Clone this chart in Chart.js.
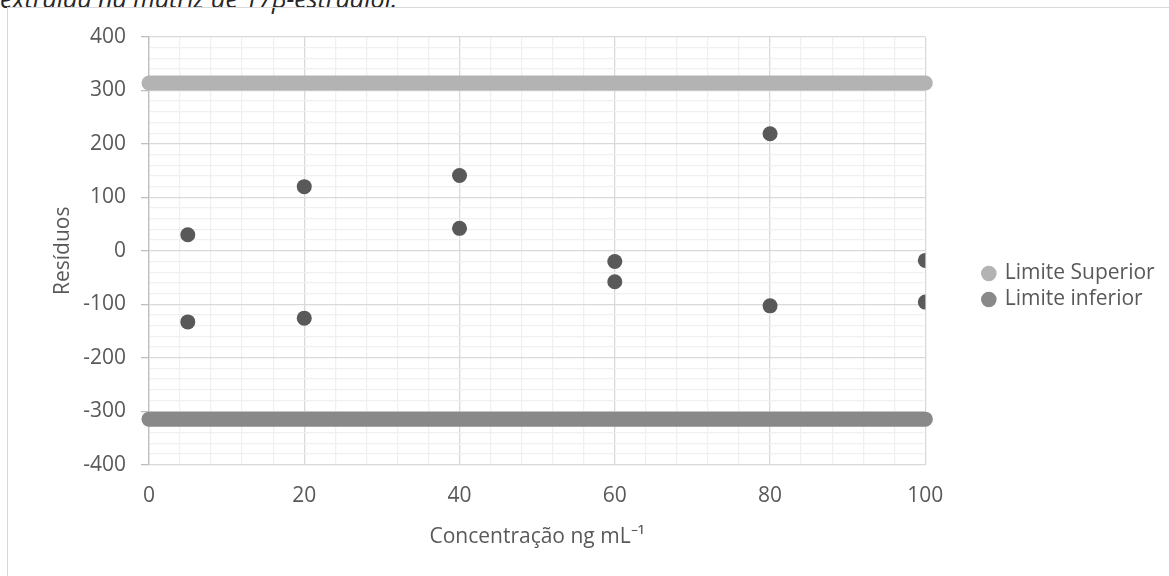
<!DOCTYPE html>
<html lang="pt">
<head>
<meta charset="utf-8">
<script src="https://cdn.jsdelivr.net/npm/chart.js@4.4.1/dist/chart.umd.min.js"></script>
<style>
  body { margin: 0; background: #fff; overflow: hidden; font-family: "Open Sans", sans-serif; }
  #caption { position: absolute; left: 0; top: -19px; font-style: italic; font-size: 25px; color: #262626; white-space: nowrap; }
  #box { position: absolute; left: 7px; top: 7px; width: 1200px; height: 620px; border: 1px solid #d9d9d9; }
  #wrap { position: absolute; left: 8px; top: 8px; width: 1161px; height: 568px; }
</style>
</head>
<body>
<div id="caption">extraída na matriz de 17β-estradiol.</div>
<div id="box"></div>
<div id="wrap"><canvas id="myChart"></canvas></div>
<script>
"use strict";

//Concentrações e resíduos
const concentrations = [5, 5, 20, 20, 40, 40, 60, 60, 80, 80, 100, 100];
const residuals = [30, -133, 120, -126, 141, 42, -20, -58, 219, -103, -18, -96];

//Limites
const limitX = [0, 100];
const upperLimit = [314, 314];
const lowerLimit = [-315, -315];

//Eixos
const xTicks = [0, 20, 40, 60, 80, 100];
const yTicks = [-400, -300, -200, -100, 0, 100, 200, 300, 400];

function toPoints(xs, ys) {
  return xs.map(function (x, i) {
    return { x: x, y: ys[i] };
  });
}

Chart.defaults.font.family = '"Open Sans", sans-serif';
Chart.defaults.font.size = 21;
Chart.defaults.color = "#595959";

//Flytta förklaringen lite uppåt
const legendShift = {
  id: "legendShift",
  afterLayout(chart) {
    if (chart.legend) {
      chart.legend.top -= 7;
      chart.legend.bottom -= 7;
    }
  },
};

const ctx = document.getElementById("myChart");

new Chart(ctx, {
  type: "scatter",
  data: {
    datasets: [
      {
        label: "Limite Superior",
        data: toPoints(limitX, upperLimit),
        showLine: true,
        borderColor: "#b3b3b3",
        backgroundColor: "#b3b3b3",
        borderWidth: 15,
        borderCapStyle: "round",
        pointRadius: 0,
        clip: false,
      },
      {
        label: "Limite inferior",
        data: toPoints(limitX, lowerLimit),
        showLine: true,
        borderColor: "#898989",
        backgroundColor: "#898989",
        borderWidth: 15,
        borderCapStyle: "round",
        pointRadius: 0,
        clip: false,
      },
      {
        label: "Resíduos",
        data: toPoints(concentrations, residuals),
        backgroundColor: "#595959",
        borderWidth: 0,
        pointRadius: 7.5,
        pointHoverRadius: 7.5,
      },
    ],
  },
  plugins: [legendShift],
  options: {
    responsive: true,
    maintainAspectRatio: false,
    animation: false,
    layout: {
      padding: { top: 29, bottom: 26, left: 42, right: 5 },
    },
    plugins: {
      tooltip: { enabled: false },
      legend: {
        position: "right",
        labels: {
          usePointStyle: true,
          pointStyle: "circle",
          boxWidth: 11,
          boxHeight: 11,
          padding: 5,
          color: "#595959",
          filter: function (item) {
            return item.datasetIndex !== 2;
          },
          generateLabels: function (chart) {
            return Chart.defaults.plugins.legend.labels.generateLabels(chart).map(function (item) {
              item.lineWidth = 0;
              return item;
            });
          },
        },
      },
    },
    scales: {
      x: {
        type: "linear",
        min: 0,
        max: 100,
        border: { color: "#d9d9d9" },
        grid: {
          color: function (c) {
            return xTicks.includes(c.tick.value) ? "#d9d9d9" : "#f0f0f0";
          },
          lineWidth: 1.3,
          tickLength: 8,
          tickColor: "rgba(0,0,0,0)",
        },
        ticks: {
          stepSize: 4,
          autoSkip: false,
          maxRotation: 0,
          padding: 11,
          callback: function (value) {
            return xTicks.includes(value) ? String(value) : "";
          },
        },
        title: {
          display: true,
          text: "Concentração ng mL⁻¹",
          color: "#595959",
          padding: { top: 5, bottom: 0 },
        },
      },
      y: {
        min: -400,
        max: 400,
        border: { color: "#bfbfbf", width: 1.3 },
        grid: {
          color: function (c) {
            return yTicks.includes(c.tick.value) ? "#d9d9d9" : "#f0f0f0";
          },
          lineWidth: 1.3,
          tickLength: 8,
          tickColor: function (c) {
            return yTicks.includes(c.tick.value) ? "#bfbfbf" : "rgba(0,0,0,0)";
          },
        },
        ticks: {
          stepSize: 20,
          autoSkip: false,
          padding: 15,
          callback: function (value) {
            return yTicks.includes(value) ? String(value) : "";
          },
        },
        title: {
          display: true,
          text: "Resíduos",
          color: "#595959",
          padding: { top: 0, bottom: -7 },
        },
      },
      //Tom axel som ger mellanrum före förklaringen
      gap: {
        type: "linear",
        position: "right",
        display: true,
        grid: { display: false },
        border: { display: false },
        ticks: { display: false },
        afterFit: function (scale) {
          scale.width = 53;
        },
      },
    },
  },
});
</script>
</body>
</html>
